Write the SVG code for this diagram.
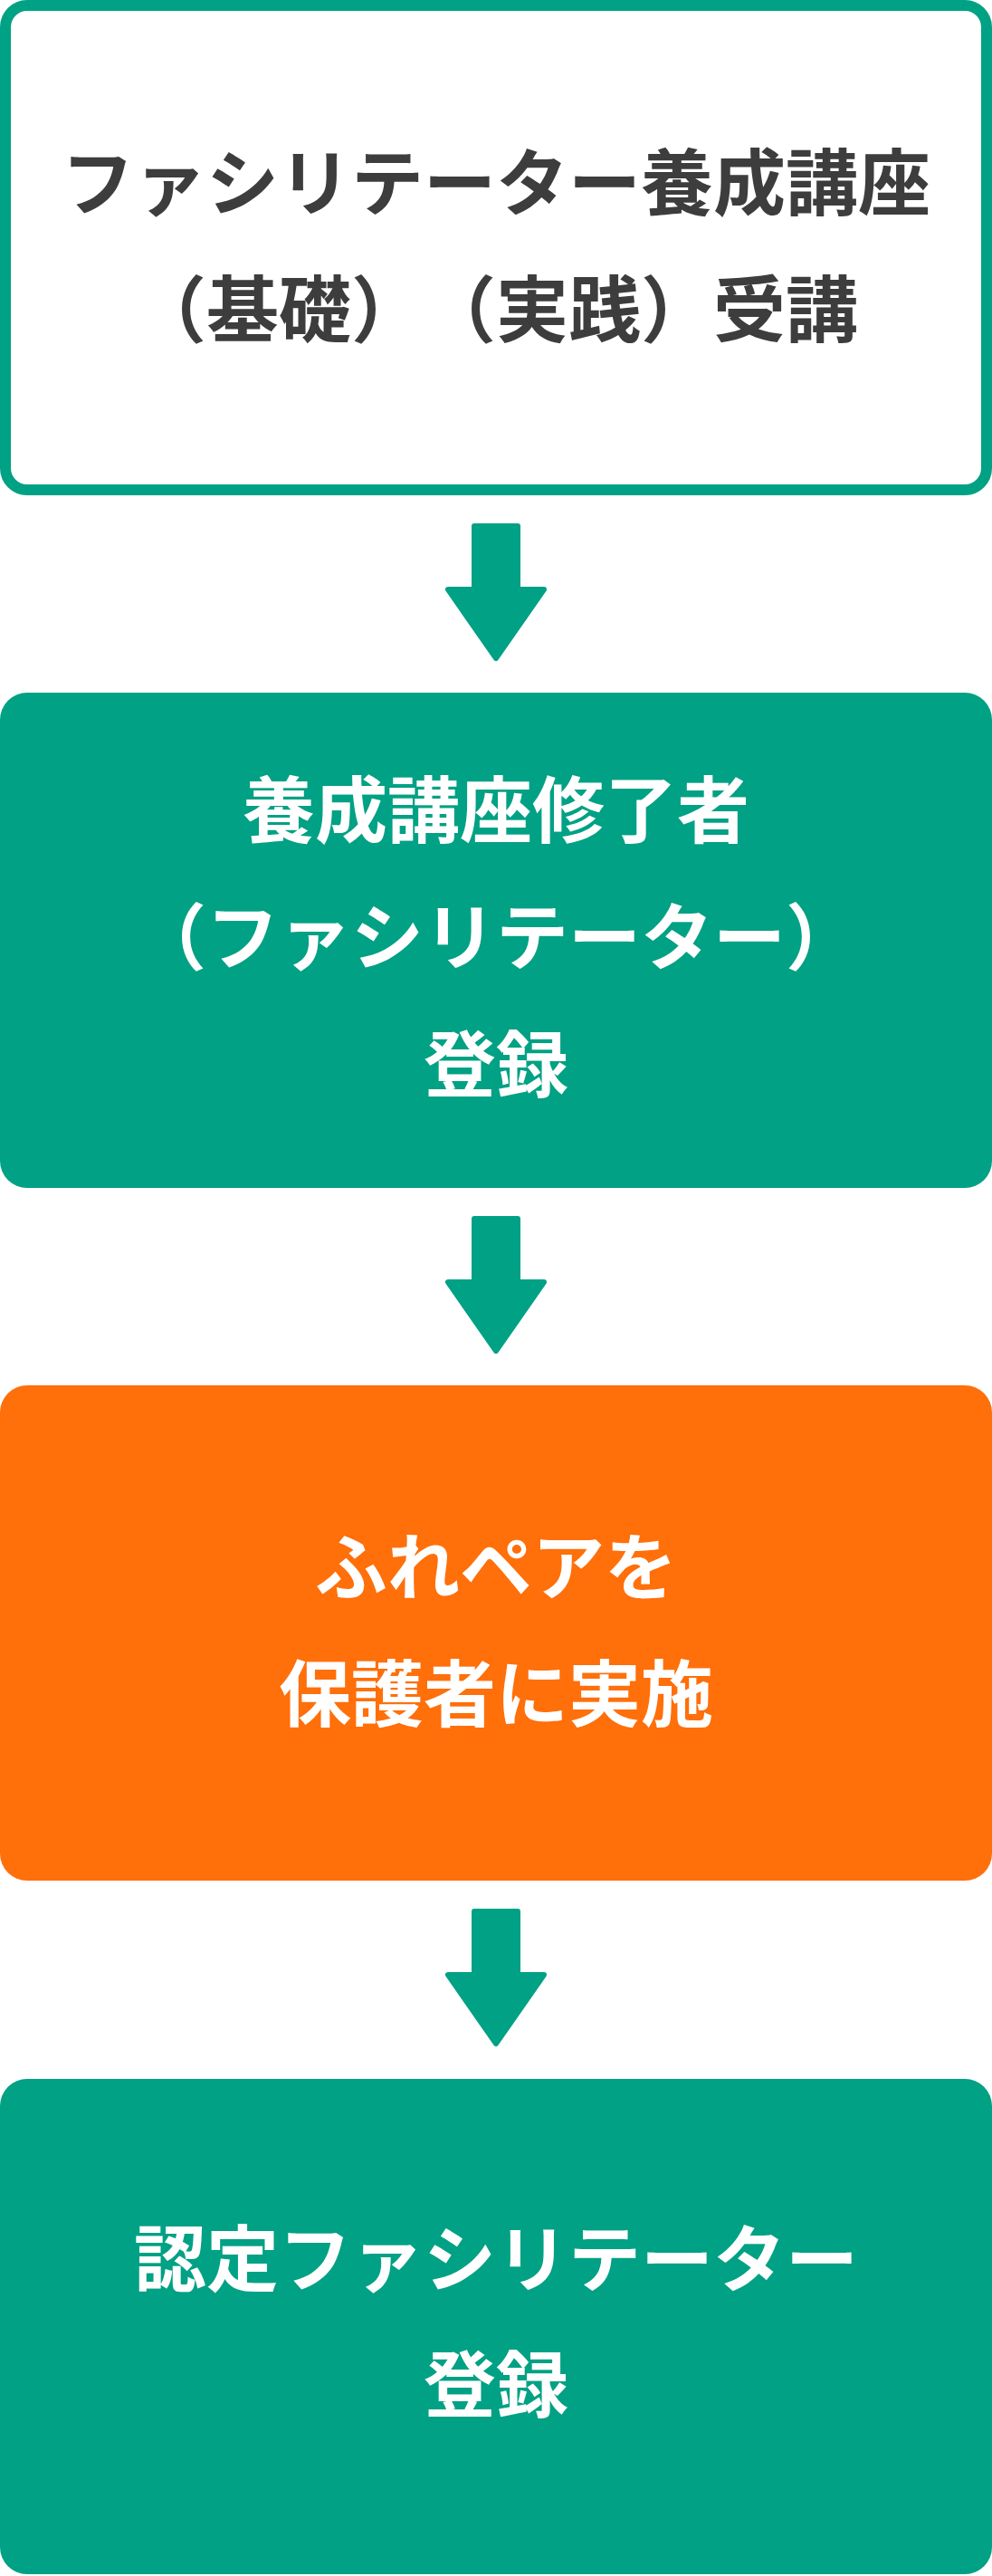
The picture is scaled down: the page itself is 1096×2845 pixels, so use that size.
<svg xmlns="http://www.w3.org/2000/svg" width="1096" height="2845" viewBox="0 0 1096 2845">
<style>
.t{font-family:"Noto Sans CJK JP","Noto Sans CJK SC",sans-serif;font-weight:700;font-size:80px;text-anchor:middle;text-spacing-trim:space-all}
.s{text-anchor:start}
.dark{fill:#3d3d3d}
.light{fill:#ffffff}
.green{fill:#00a184}
.orange{fill:#ff6f0a}
.arr{fill:#00a184;stroke:#00a184;stroke-width:6;stroke-linejoin:round}
</style>
<defs>
<path id="arrow" d="M524 3 L572 3 L572 73 L601 73 L548 149 L495 73 L524 73 Z"/>
</defs>
<rect width="1096" height="2845" fill="#ffffff"/>
<g id="node1">
<rect x="6" y="6" width="1084" height="535" rx="24" ry="24" fill="#ffffff" stroke="#00a184" stroke-width="12"/>
<text class="t dark" x="548" y="231">ファシリテーター養成講座</text>
<text class="t s dark" x="148" y="371">（</text>
<text class="t s dark" x="228" y="371">基礎</text>
<text class="t s dark" x="388" y="371">）</text>
<text class="t s dark" x="468" y="371">（</text>
<text class="t s dark" x="548" y="371">実践</text>
<text class="t s dark" x="708" y="371">）</text>
<text class="t s dark" x="788" y="371">受講</text>
</g>
<g id="node2">
<rect class="green" x="0" y="765" width="1096" height="547" rx="30" ry="30"/>
<text class="t light" x="548" y="924">養成講座修了者</text>
<text class="t light" x="548" y="1064">（ファシリテーター）</text>
<text class="t light" x="548" y="1205">登録</text>
</g>
<g id="node3">
<rect class="orange" x="0" y="1530" width="1096" height="547" rx="30" ry="30"/>
<text class="t light" x="548" y="1760">ふれペアを</text>
<text class="t light" x="548" y="1900">保護者に実施</text>
</g>
<g id="node4">
<rect class="green" x="0" y="2296" width="1096" height="547" rx="30" ry="30"/>
<text class="t light" x="548" y="2524">認定ファシリテーター</text>
<text class="t light" x="548" y="2663">登録</text>
</g>
<g id="connectors">
<use class="arr" href="#arrow" x="0" y="578"/>
<use class="arr" href="#arrow" x="0" y="1343"/>
<use class="arr" href="#arrow" x="0" y="2108"/>
</g>
</svg>
